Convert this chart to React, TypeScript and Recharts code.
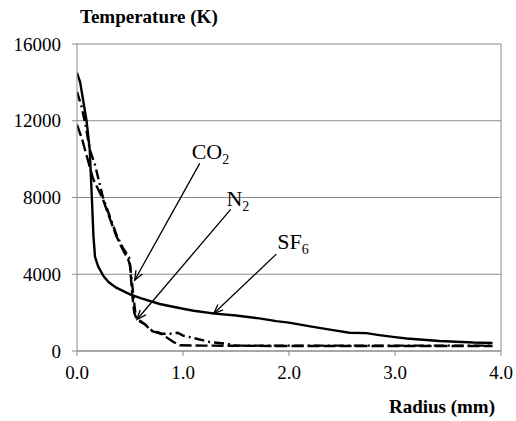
import React from "react";
import { LineChart, Line, XAxis, YAxis, CartesianGrid, ReferenceLine, ReferenceDot } from "recharts";

const sf6R = [0, 0.03, 0.06, 0.09, 0.12, 0.14, 0.155, 0.17, 0.2, 0.25, 0.3, 0.37, 0.5, 0.6, 0.78, 1.0, 1.1, 1.3, 1.5, 1.72, 1.88, 2.0, 2.2, 2.4, 2.57, 2.73, 2.85, 3.0, 3.11, 3.42, 3.74, 3.92];
const sf6T = [14500, 14000, 13000, 12000, 10500, 8000, 6000, 4900, 4400, 3900, 3580, 3300, 2950, 2750, 2450, 2200, 2100, 1950, 1850, 1700, 1560, 1480, 1280, 1100, 950, 930, 830, 720, 650, 520, 440, 420];

const co2R = [0, 0.04, 0.08, 0.12, 0.17, 0.245, 0.31, 0.37, 0.43, 0.49, 0.51, 0.53, 0.55, 0.57, 0.64, 0.7, 0.8, 0.88, 0.95, 1.0, 1.06, 1.25, 1.41, 1.5, 2.0, 3.0, 3.92];
const co2T = [13500, 12800, 11800, 10500, 9700, 8000, 7000, 6100, 5400, 4900, 4000, 3000, 2000, 1600, 1400, 1100, 900, 900, 950, 800, 730, 470, 380, 280, 280, 280, 280];

const n2R = [0, 0.05, 0.1, 0.15, 0.245, 0.31, 0.37, 0.43, 0.48, 0.5, 0.52, 0.54, 0.56, 0.64, 0.7, 0.8, 0.91, 0.97, 1.2, 2.0, 3.0, 3.92];
const n2T = [11800, 11000, 10000, 9000, 7900, 6900, 6000, 5300, 4800, 4500, 3000, 2000, 1700, 1400, 1050, 880, 470, 300, 280, 260, 260, 260];

const xTicks = [0, 1, 2, 3, 4];
const yTicks = [0, 4000, 8000, 12000, 16000];

// annotation arrows: [startR, startT, endR, endT]
const arrowCO2 = [1.158, 9780, 0.544, 3690];
const arrowN2 = [1.45, 7380, 0.566, 1640];
const arrowSF6 = [1.881, 5050, 1.29, 1950];

const labelCO2 = { r: 1.082, t: 10000, main: "CO", sub: "2" };
const labelN2 = { r: 1.41, t: 7550, main: "N", sub: "2" };
const labelSF6 = { r: 1.89, t: 5300, main: "SF", sub: "6" };

const zip = (rs: number[], ts: number[]) => rs.map((r, i) => ({ r, t: ts[i] }));
const sf6Data = zip(sf6R, sf6T);
const co2Data = zip(co2R, co2T);
const n2Data = zip(n2R, n2T);

const FONT = "Liberation Serif, Times New Roman, serif";
const GRID = "#8a8a8a";

const ArrowShape = (props: any) => {
  const { x1, y1, x2, y2 } = props;
  if ([x1, y1, x2, y2].some((v) => v === undefined || isNaN(v))) return null;
  const ang = Math.atan2(y2 - y1, x2 - x1);
  const len = 10;
  const spread = 0.38;
  const ax1 = x2 - len * Math.cos(ang - spread);
  const ay1 = y2 - len * Math.sin(ang - spread);
  const ax2 = x2 - len * Math.cos(ang + spread);
  const ay2 = y2 - len * Math.sin(ang + spread);
  return (
    <g>
      <line x1={x1} y1={y1} x2={x2} y2={y2} stroke="#000" strokeWidth={1.3} />
      <polyline points={`${ax1},${ay1} ${x2},${y2} ${ax2},${ay2}`} fill="none" stroke="#000" strokeWidth={1.3} />
    </g>
  );
};

const makeLabel = (main: string, sub: string) => (props: any) => {
  const { cx, cy } = props;
  return (
    <text x={cx} y={cy} fontFamily={FONT} fontSize={22} fill="#000" style={{ fontFamily: FONT }}>
      {main}
      <tspan fontSize={14} dy={5}>{sub}</tspan>
    </text>
  );
};

const arrowSeg = (a: number[]) => [
  { x: a[0], y: a[1] },
  { x: a[2], y: a[3] },
];

const tickStyle = { fill: "#000", fontSize: 19, fontFamily: FONT, style: { fontFamily: FONT } };

export default function App() {
  return (
    <div style={{ position: "absolute", left: 0, top: 0, width: 516, height: 421, background: "#fff", fontFamily: FONT }}>
      <LineChart width={516} height={421} margin={{ top: 44, right: 15, left: 0, bottom: 40 }} style={{ fontFamily: FONT }}>
        <CartesianGrid horizontal vertical={false} stroke={GRID} strokeWidth={1} />
        <XAxis
          type="number"
          dataKey="r"
          domain={[0, 4]}
          ticks={xTicks}
          tickFormatter={(v: number) => v.toFixed(1)}
          stroke={GRID}
          tick={tickStyle}
          tickSize={5}
          tickMargin={10}
          height={30}
          allowDataOverflow
        />
        <YAxis
          type="number"
          dataKey="t"
          domain={[0, 16000]}
          ticks={yTicks}
          stroke={GRID}
          tick={tickStyle}
          tickSize={5}
          tickMargin={11}
          width={77}
          allowDataOverflow
        />
        <ReferenceLine x={4} stroke={GRID} />
        <Line data={n2Data} dataKey="t" type="linear" stroke="#000" strokeWidth={2.4} strokeDasharray="12 4" dot={false} isAnimationActive={false} />
        <Line data={co2Data} dataKey="t" type="linear" stroke="#000" strokeWidth={2.4} strokeDasharray="10 4 2 4" dot={false} isAnimationActive={false} />
        <Line data={sf6Data} dataKey="t" type="linear" stroke="#000" strokeWidth={2.4} dot={false} isAnimationActive={false} />
        <ReferenceLine segment={arrowSeg(arrowCO2)} shape={ArrowShape} />
        <ReferenceLine segment={arrowSeg(arrowN2)} shape={ArrowShape} />
        <ReferenceLine segment={arrowSeg(arrowSF6)} shape={ArrowShape} />
        <ReferenceDot x={labelCO2.r} y={labelCO2.t} r={0} shape={makeLabel(labelCO2.main, labelCO2.sub)} />
        <ReferenceDot x={labelN2.r} y={labelN2.t} r={0} shape={makeLabel(labelN2.main, labelN2.sub)} />
        <ReferenceDot x={labelSF6.r} y={labelSF6.t} r={0} shape={makeLabel(labelSF6.main, labelSF6.sub)} />
      </LineChart>
      <svg width={516} height={421} style={{ position: "absolute", left: 0, top: 0, pointerEvents: "none", fontFamily: FONT }}>
        <text x={80} y={23} fontFamily={FONT} fontSize={19} fontWeight="bold" fill="#000">Temperature (K)</text>
        <text x={495} y={413} textAnchor="end" fontFamily={FONT} fontSize={19} fontWeight="bold" fill="#000">Radius (mm)</text>
      </svg>
    </div>
  );
}
